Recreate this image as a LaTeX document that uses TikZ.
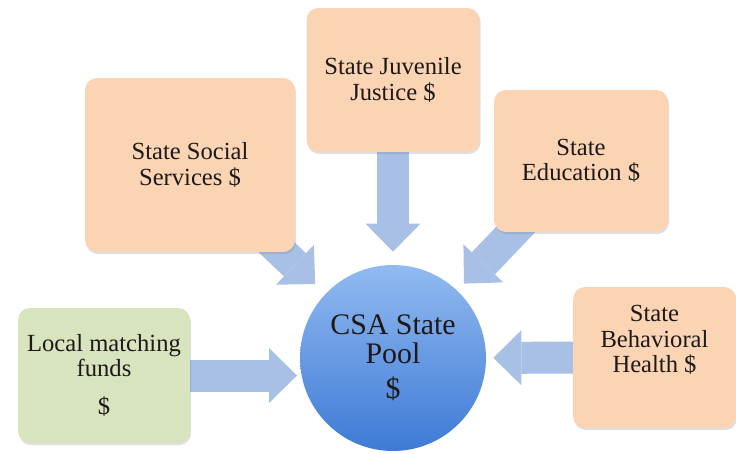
\documentclass[tikz,border=0pt]{standalone}
\usepackage{fontspec}
\setmainfont{Liberation Serif}
\usetikzlibrary{arrows.meta,shadows,backgrounds}
\definecolor{peach}{RGB}{251,212,180}
\definecolor{sage}{RGB}{215,228,189}
\definecolor{flowblue}{RGB}{168,192,230}
\definecolor{pooltop}{RGB}{145,186,240}
\definecolor{poolbottom}{RGB}{62,122,214}
\definecolor{ink}{RGB}{30,25,25}
\tikzset{
  fund/.style      = {shape=rectangle, rounded corners=0.24cm,
                      fill=peach, align=center, text=ink,
                      font=\fontsize{14}{14.5}\selectfont,
                      drop shadow={shadow xshift=0.6pt, shadow yshift=-1.2pt,
                                   opacity=0.25}},
  matchfund/.style = {fund, fill=sage},
  pool/.style      = {circle, minimum size=3.72cm, align=center, text=ink,
                      top color=pooltop, bottom color=poolbottom,
                      font=\fontsize{17}{16.5}\selectfont},
  feeder/.style    = {draw=flowblue, line width=0.64cm,
                      -{Triangle[length=0.56cm, width=1.1cm, line width=0pt]}}
}

\begin{document}
\begin{tikzpicture}
  [x=0.02cm, y=-0.02cm]
  \useasboundingbox (0,0) rectangle (736,453);
  % state and local money
  \node [fund, minimum width=4.2cm, minimum height=3.48cm] (social)
    at (190,165) {State Social\\Services \$};
  \node [fund, minimum width=3.46cm, minimum height=2.88cm] (juvenile)
    at (393,80) {State Juvenile\\Justice \$};
  \node [fund, minimum width=3.48cm, minimum height=2.84cm] (education)
    at (581,161) {State\\Education \$};
  \node [fund, minimum width=3.26cm, minimum height=2.82cm,
         text depth=0.74cm] (behavioral)
    at (654.5,357.5) {State\\Behavioral\\Health \$};
  \node [matchfund, minimum width=3.44cm, minimum height=2.7cm] (local)
    at (104,375.5) {Local matching\\funds\\[7pt]\$};
  % the pool in the middle
  \node [pool] (pool) at (393,358) {CSA State\\Pool\\[3.4pt]\$};
  % block arrows, kept under the boxes
  \begin{pgfonlayer}{background}
    \draw [feeder, shorten >=0.28cm] (social.center) -- (pool);
    \draw [feeder, shorten >=0.26cm] (juvenile.center) -- (pool);
    \draw [feeder, shorten >=0.19cm] (education.center) -- (pool);
    \draw [feeder, shorten >=0.14cm] (behavioral.center) -- (pool);
    \draw [feeder, shorten >=1.92cm] (local.center) -- (local -| pool);
  \end{pgfonlayer}
\end{tikzpicture}
\end{document}
